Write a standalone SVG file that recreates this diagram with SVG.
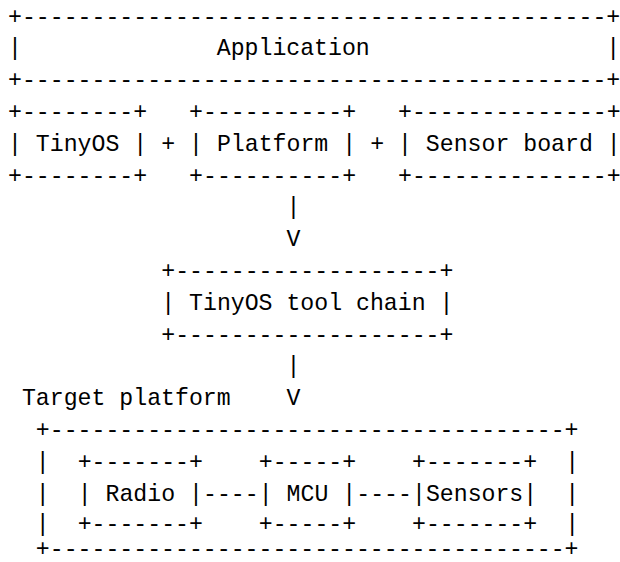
<svg xmlns="http://www.w3.org/2000/svg" width="620" height="562" viewBox="0 0 620 562" xml:space="preserve">
<style>
text { font-family: "Liberation Mono", "DejaVu Sans Mono", monospace; font-size: 23.2px; fill: #000; white-space: pre; }
</style>
<rect width="620" height="562" fill="#fff"/>
<g id="application">
<text x="8" y="23.5">+------------------------------------------+</text>
<text x="8" y="55.3">|              Application                 |</text>
<text x="8" y="87.1">+------------------------------------------+</text>
</g>
<g id="tinyos">
<text x="8" y="118.9">+--------+</text>
<text x="8" y="150.7">| TinyOS |</text>
<text x="8" y="182.5">+--------+</text>
</g>
<g id="platform">
<text x="189.09" y="118.9">+----------+</text>
<text x="189.09" y="150.7">| Platform |</text>
<text x="189.09" y="182.5">+----------+</text>
</g>
<g id="sensor-board">
<text x="398.04" y="118.9">+--------------+</text>
<text x="398.04" y="150.7">| Sensor board |</text>
<text x="398.04" y="182.5">+--------------+</text>
</g>
<g id="toolchain">
<text x="161.23" y="277.9">+-------------------+</text>
<text x="161.23" y="309.7">| TinyOS tool chain |</text>
<text x="161.23" y="341.5">+-------------------+</text>
</g>
<g id="target-platform">
<text x="21.93" y="405.1">Target platform</text>
<text x="35.86" y="436.9">+-------------------------------------+</text>
<text x="35.86" y="468.7">|</text>
<text x="35.86" y="500.5">|</text>
<text x="35.86" y="530.5">|</text>
<text x="565.2" y="468.7">|</text>
<text x="565.2" y="500.5">|</text>
<text x="565.2" y="530.5">|</text>
<text x="35.86" y="555.5">+-------------------------------------+</text>
</g>
<g id="radio">
<text x="77.65" y="468.7">+-------+</text>
<text x="77.65" y="500.5">| Radio |</text>
<text x="77.65" y="530.5">+-------+</text>
</g>
<g id="mcu">
<text x="258.74" y="468.7">+-----+</text>
<text x="258.74" y="500.5">| MCU |</text>
<text x="258.74" y="530.5">+-----+</text>
</g>
<g id="sensors">
<text x="411.97" y="468.7">+-------+</text>
<text x="411.97" y="500.5">|Sensors|</text>
<text x="411.97" y="530.5">+-------+</text>
</g>
<g id="connectors">
<text x="161.23" y="150.7">+</text>
<text x="370.18" y="150.7">+</text>
<text x="286.6" y="214.3">|</text>
<text x="286.6" y="246.1">V</text>
<text x="286.6" y="373.3">|</text>
<text x="286.6" y="405.1">V</text>
<text x="203.02" y="500.5">----</text>
<text x="356.25" y="500.5">----</text>
</g>
</svg>
